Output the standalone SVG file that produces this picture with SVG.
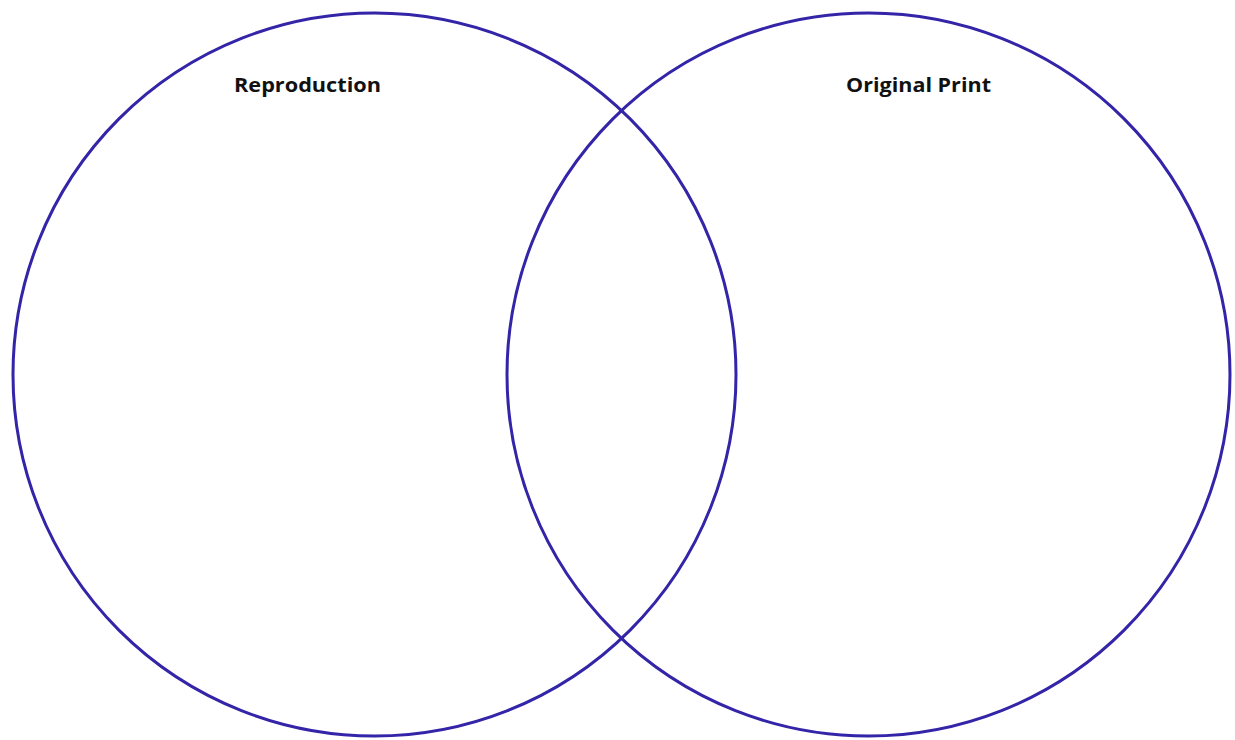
<svg xmlns="http://www.w3.org/2000/svg" width="1235" height="740" viewBox="0 0 1235 740">
<style>
.c{fill:none;stroke:#3324a8;stroke-width:3}
.t{font-family:"Open Sans","Liberation Sans",sans-serif;font-weight:bold;font-size:20px;fill:#111}
</style>
<rect width="1235" height="740" fill="#fff"/>
<g id="reproduction">
<circle class="c" cx="374.5" cy="374.5" r="361.5"/>
<text class="t" x="234" y="92" textLength="147" lengthAdjust="spacingAndGlyphs">Reproduction</text>
</g>
<g id="original-print">
<circle class="c" cx="868.5" cy="374.5" r="361.5"/>
<text class="t" x="846" y="92" textLength="145" lengthAdjust="spacingAndGlyphs">Original Print</text>
</g>
<g id="connectors"/>
</svg>
